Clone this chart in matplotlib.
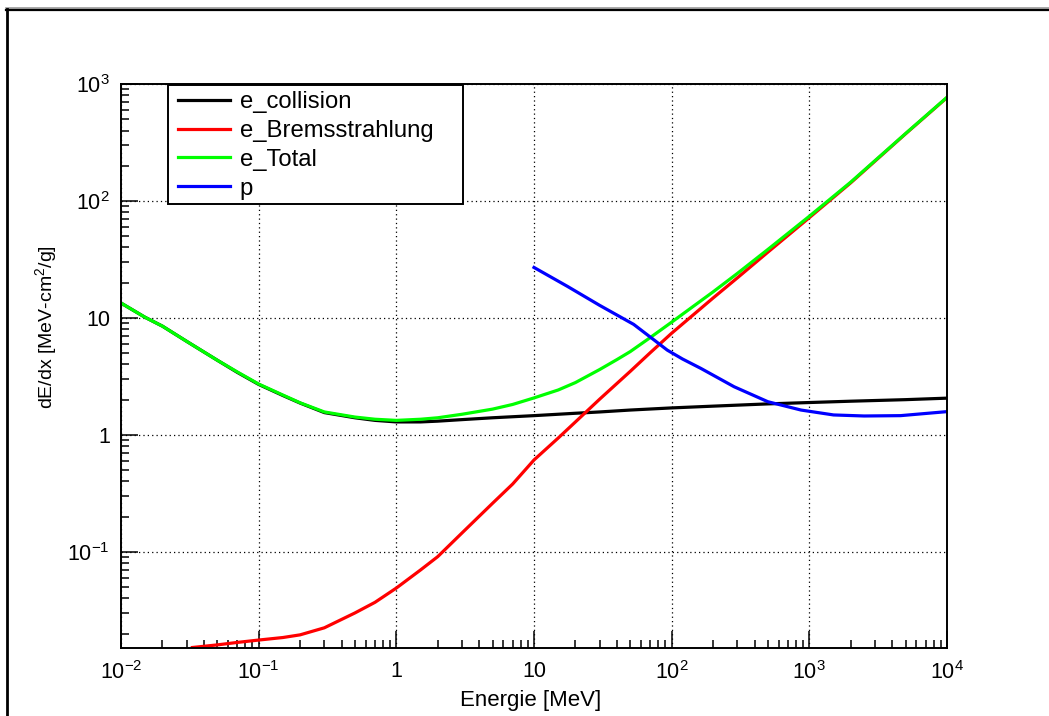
import numpy as np
import matplotlib.pyplot as plt
from matplotlib.lines import Line2D
from matplotlib.patches import Rectangle

plt.rcParams['font.family'] = ['Liberation Sans', 'DejaVu Sans']
plt.rcParams['mathtext.fontset'] = 'custom'
plt.rcParams['mathtext.rm'] = 'Liberation Sans'

# --- data (energy in MeV, dE/dx in MeV cm2/g) ---
e_coll_E = [0.01, 0.015, 0.02, 0.03, 0.05, 0.07, 0.1, 0.15, 0.2, 0.3, 0.5, 0.7, 1, 1.5, 2, 3, 5,
            10, 20, 30, 50, 100, 200, 500, 1000, 2000, 5000, 10000]
e_coll = [13.4, 10.1, 8.5, 6.3, 4.35, 3.42, 2.7, 2.17, 1.87, 1.55, 1.40, 1.33, 1.29, 1.29, 1.31,
          1.35, 1.40, 1.46, 1.53, 1.57, 1.63, 1.70, 1.76, 1.84, 1.89, 1.94, 2.00, 2.06]

e_brems_E = [0.033, 0.05, 0.07, 0.1, 0.15, 0.2, 0.3, 0.5, 0.7, 1, 1.5, 2, 3, 5, 7, 10, 15, 20,
             30, 50, 70, 100, 200, 300, 500, 1000, 2000, 5000, 10000]
e_brems = [0.0152, 0.016, 0.0168, 0.0176, 0.0185, 0.0195, 0.0224, 0.030, 0.037, 0.049, 0.070,
           0.091, 0.145, 0.26, 0.38, 0.61, 0.94, 1.29, 2.02, 3.49, 5.05, 7.4, 14.8, 22, 36.5, 72,
           143, 375, 765]

e_total_E = [0.01, 0.015, 0.02, 0.03, 0.05, 0.07, 0.1, 0.15, 0.2, 0.3, 0.5, 0.7, 1, 1.5, 2, 3, 5,
             7, 10, 15, 20, 30, 40, 50, 70, 100, 200, 300, 500, 1000, 2000, 5000, 10000]
e_total = [13.4, 10.1, 8.5, 6.3, 4.35, 3.45, 2.72, 2.19, 1.88, 1.57, 1.42, 1.36, 1.33, 1.36, 1.40,
           1.50, 1.66, 1.82, 2.07, 2.42, 2.8, 3.62, 4.4, 5.15, 6.8, 9.2, 16.7, 24, 38.5, 74, 145,
           377, 770]

p_E = [10, 17.5, 30, 53, 70, 93, 120, 163, 284, 500, 870, 1500, 2500, 4600, 10000]
p_dedx = [27, 18.6, 12.8, 8.8, 6.85, 5.3, 4.45, 3.7, 2.58, 1.92, 1.63, 1.48, 1.45, 1.46, 1.58]

labels = ['e_collision', 'e_Bremsstrahlung', 'e_Total', 'p']
colors = ['#000000', '#ff0000', '#00ff00', '#0000ff']
x_decades = [-2, -1, 0, 1, 2, 3, 4]
y_decades = [-1, 0, 1, 2, 3]

fig = plt.figure(figsize=(10.49, 7.16), dpi=100)
W, H = 1049, 716
ax = fig.add_axes([121 / W, 1 - 647.5 / H, (947 - 121) / W, (647.5 - 84) / H])

lw = 2.3
ax.plot(e_coll_E, e_coll, color=colors[0], lw=lw, label=labels[0])
ax.plot(e_brems_E, e_brems, color=colors[1], lw=lw, label=labels[1])
ax.plot(e_total_E, e_total, color=colors[2], lw=lw, label=labels[2])
ax.plot(p_E, p_dedx, color=colors[3], lw=lw, label=labels[3])

ax.set_xscale('log')
ax.set_yscale('log')
ax.set_xlim(1e-2, 1e4)
ax.set_ylim(0.0152, 1e3)

ax.xaxis.set_major_locator(plt.FixedLocator([10.0 ** k for k in x_decades]))
ax.yaxis.set_major_locator(plt.FixedLocator([10.0 ** k for k in y_decades]))
ax.xaxis.set_minor_locator(plt.LogLocator(base=10, subs=np.arange(2, 10), numticks=20))
ax.yaxis.set_minor_locator(plt.LogLocator(base=10, subs=np.arange(2, 10), numticks=20))
ax.xaxis.set_minor_formatter(plt.NullFormatter())
ax.yaxis.set_minor_formatter(plt.NullFormatter())


def root_fmt(v, pos):
    k = int(round(np.log10(v)))
    if k == 0:
        return '1'
    if k == 1:
        return '10'
    return r'$\mathregular{10^{%d}}$' % k if k > 0 else r'$\mathregular{10^{-%d}}$' % (-k)


ax.xaxis.set_major_formatter(plt.FuncFormatter(root_fmt))
ax.yaxis.set_major_formatter(plt.FuncFormatter(root_fmt))

ax.tick_params(which='both', direction='in', top=False, right=False, width=1.1, labelsize=15.5)
ax.tick_params(which='major', length=12)
ax.tick_params(which='minor', length=6)
ax.tick_params(axis='x', pad=10)
ax.tick_params(axis='y', pad=8)
for s in ax.spines.values():
    s.set_linewidth(1.4)

ax.grid(True, which='major', color='black', linestyle=(0, (1, 2.5)), linewidth=0.9)

ax.set_xlabel('Energie [MeV]', fontsize=16)
ax.xaxis.set_label_coords(0.496, -0.076)
ax.set_ylabel(r'dE/dx [MeV-cm$^{2}$/g]', fontsize=14)
ax.yaxis.set_label_coords(-0.074, 0.569)

# legend box (ROOT style), drawn as a white frame with the legend entries on top
box = Rectangle((47 / 826, (647.5 - 204) / 563.5), 295 / 826, 119 / 563.5,
                transform=ax.transAxes, facecolor='white', edgecolor='black', lw=1.4, zorder=5)
ax.add_patch(box)
leg = ax.legend(loc='upper left', bbox_to_anchor=((178 - 121) / 826, (647.5 - 91) / 563.5),
                frameon=False, borderaxespad=0, borderpad=0, fontsize=17.2,
                handlelength=2.17, handletextpad=0.42, labelspacing=0.29)
leg.set_zorder(6)
for h in leg.get_lines():
    h.set_linewidth(2.3)

# outer canvas border
fig.add_artist(Line2D([6 / W, 1], [1 - 7.5 / H, 1 - 7.5 / H], color='#999999', lw=1.2))
fig.add_artist(Line2D([6 / W, 1], [1 - 9.5 / H, 1 - 9.5 / H], color='black', lw=1.6))
fig.add_artist(Line2D([6.8 / W, 6.8 / W], [1 - 9 / H, 0], color='black', lw=2.0))

fig.savefig('out.png', dpi=100)
